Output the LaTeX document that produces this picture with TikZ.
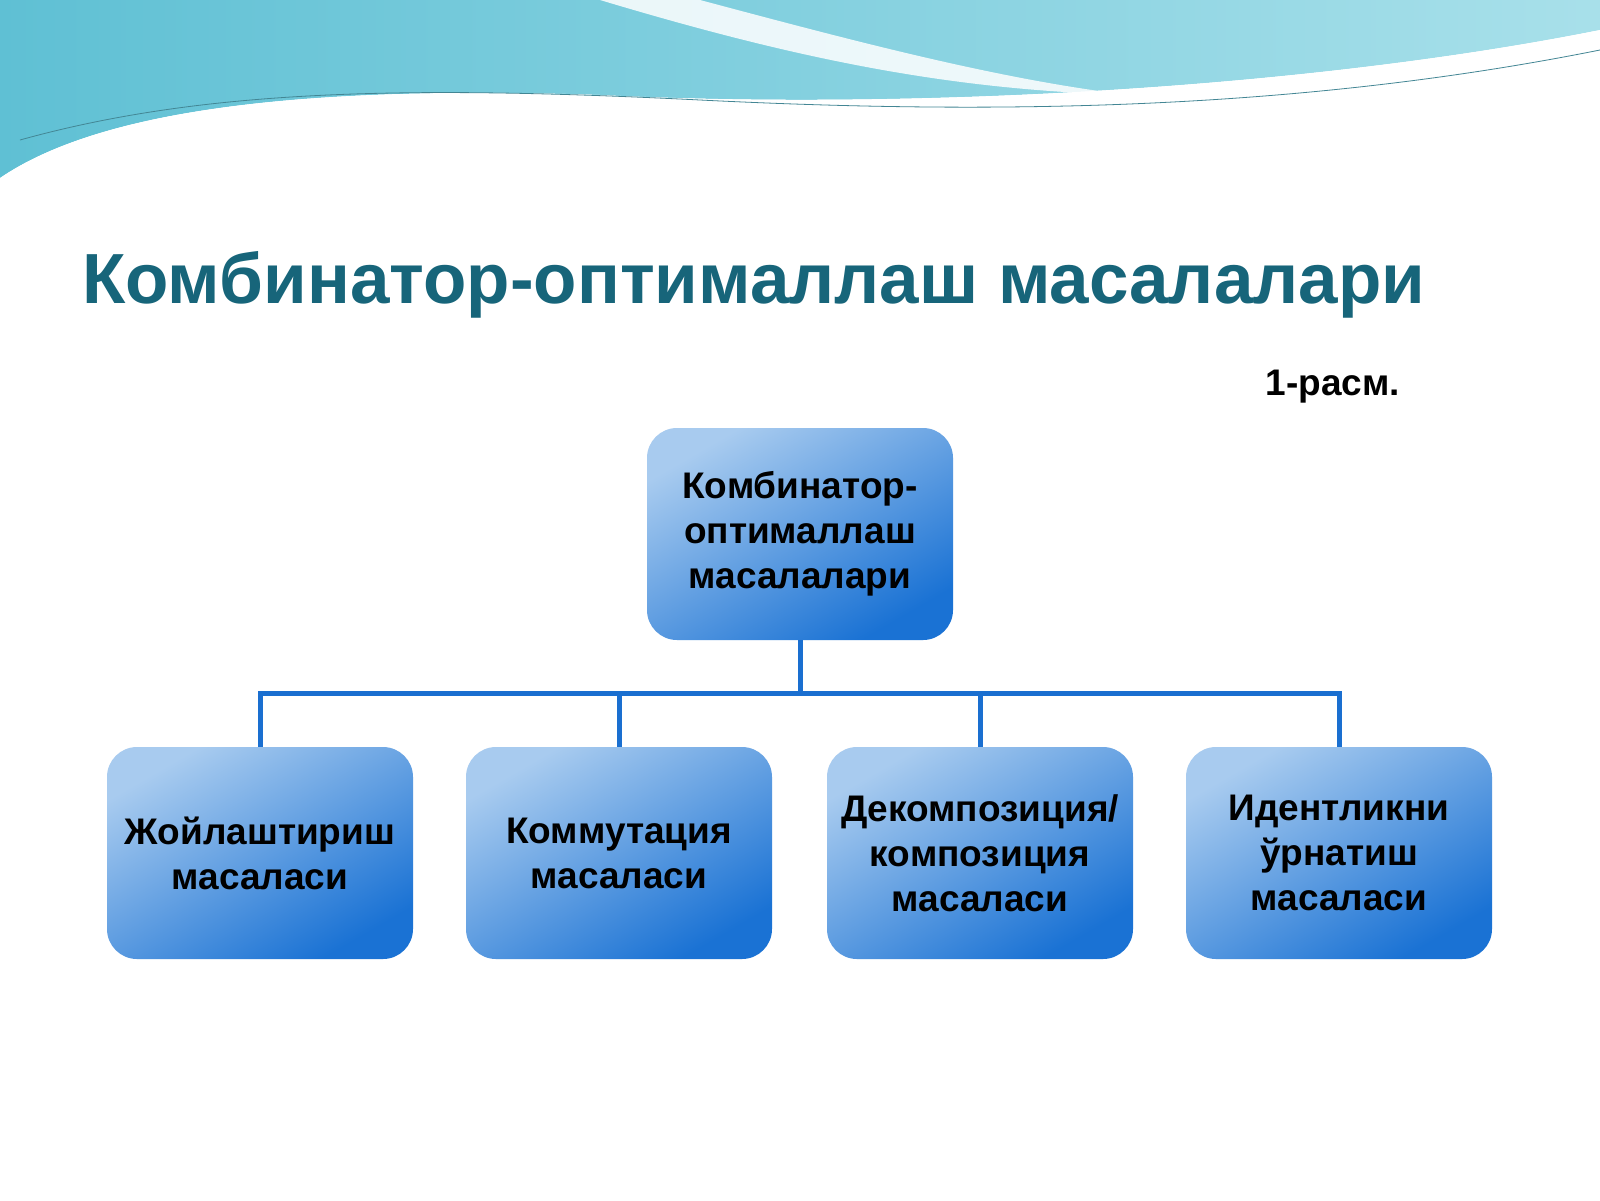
\documentclass[tikz,border=0pt]{standalone}
\usepackage{fontspec}
\setmainfont{Liberation Sans}
\begin{document}
\begin{tikzpicture}[x=1pt,y=-1pt,
  box/.style={rounded corners=30pt,shading=axis,left color=boxlight,right color=boxdark,shading angle=30,
    minimum width=306pt,minimum height=212pt,align=center,font=\fontsize{37}{45}\selectfont\bfseries,text=black},
  conn/.style={draw=linkblue,line width=5pt}]
\definecolor{boxlight}{HTML}{A8CBEF}
\definecolor{boxdark}{HTML}{1A72D4}
\definecolor{linkblue}{HTML}{1A6FD0}
\definecolor{titleteal}{HTML}{17657A}
\definecolor{wavea}{HTML}{5FC0D4}
\definecolor{waveb}{HTML}{A8E0EA}
\useasboundingbox (0,0) rectangle (1600,1200);
\fill[white] (0,0) rectangle (1600,1200);
% top waves
\shade[left color=wavea,right color=waveb] (0,0) -- (1600,0) -- (1600,30)
  .. controls (1300,90) and (900,110) .. (600,95) .. controls (300,85) and (100,110) .. (0,178) -- cycle;
\fill[white,opacity=0.85] (700,0) .. controls (850,40) and (1000,80) .. (1130,95)
  .. controls (950,90) and (800,60) .. (600,0) -- cycle;
\fill[white] (0,178) .. controls (100,110) and (300,85) .. (600,95) .. controls (900,110) and (1300,90) .. (1600,30)
  -- (1600,60) .. controls (1300,120) and (900,125) .. (600,105) .. controls (300,95) and (100,130) .. (0,190) -- cycle;
\draw[wavea!70!black,line width=0.8pt] (20,140) .. controls (200,90) and (400,85) .. (700,100) .. controls (1000,115) and (1300,110) .. (1600,50);
% title
\node[anchor=base west,text=titleteal,font=\fontsize{71}{76}\selectfont\bfseries,inner sep=0] (title) at (82,303) {Комбинатор-оптималлаш масалалари};
\node[anchor=base east,font=\fontsize{37}{40}\selectfont\bfseries,inner sep=0] (fig) at (1400,395) {1-расм.};
% boxes
\node[box] (top) at (800,534) {Комбинатор-\\оптималлаш\\ масалалари};
\node[box] (b1) at (260,853) {Жойлаштириш\\масаласи};
\node[box] (b2) at (619,853) {Коммутация\\масаласи};
\node[box] (b3) at (980,853) {Декомпозиция/\\композиция\\масаласи};
\node[box] (b4) at (1339,853) {Идентликни\\ўрнатиш\\масаласи};
\coordinate (hub) at (800,693);
\draw[conn] (top.south) -- (hub);
\draw[conn] (b1.north) |- (hub) -| (b4.north);
\draw[conn] (b2.north) -- (b2.north |- hub);
\draw[conn] (b3.north) -- (b3.north |- hub);
\end{tikzpicture}
\end{document}
